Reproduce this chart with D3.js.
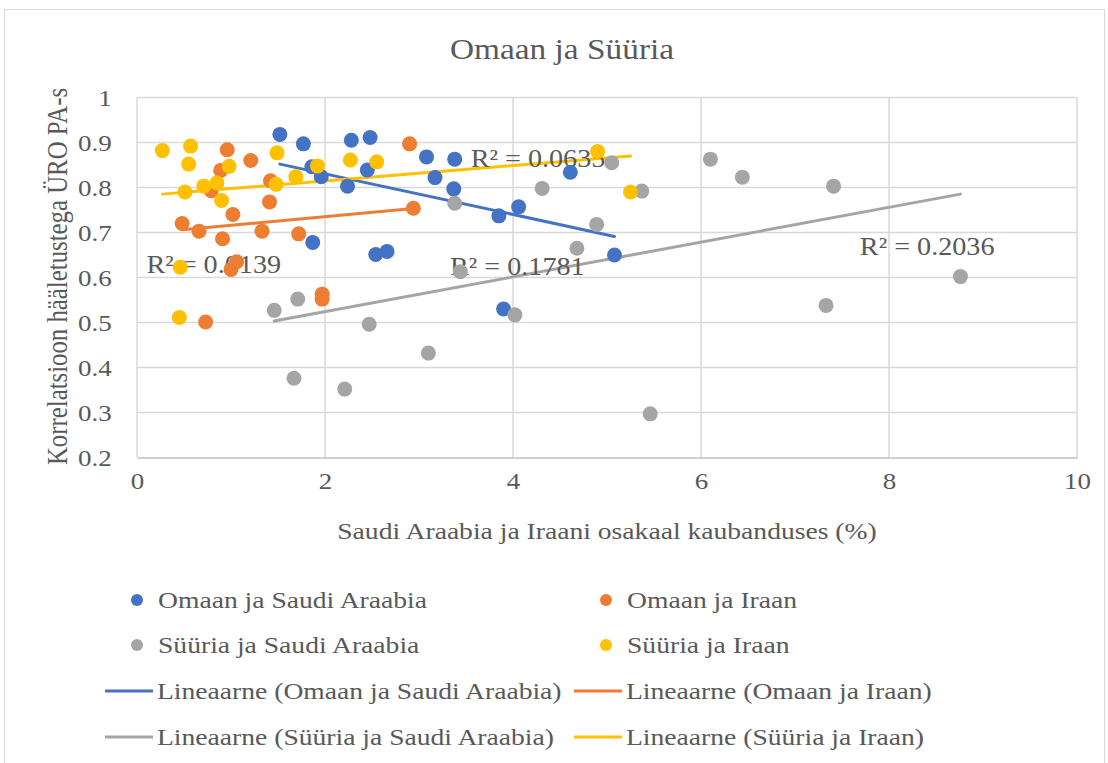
<!DOCTYPE html>
<html>
<head>
<meta charset="utf-8">
<script src="https://cdn.jsdelivr.net/npm/d3@7"></script>
<style>
  body { margin: 0; background: #fff; }
  svg text { font-family: "Liberation Serif", "Times New Roman", serif; fill: #595959; }
</style>
</head>
<body>
<div id="chart"></div>
<script>
const chartTitle = 'Omaan ja Süüria';
const xTitle = 'Saudi Araabia ja Iraani osakaal kaubanduses (%)';
const yTitle = 'Korrelatsioon hääletustega ÜRO PA-s';

const seriesNames = ['Omaan ja Saudi Araabia', 'Omaan ja Iraan', 'Süüria ja Saudi Araabia', 'Süüria ja Iraan'];
const seriesColors = ['#4472c4', '#ed7d31', '#a5a5a5', '#ffc000'];

const omaanSaudiX = [1.52, 1.77, 1.86, 1.96, 1.87, 2.28, 2.48, 2.45, 2.24, 2.54, 2.66, 3.08, 3.38, 3.17, 3.37, 3.85, 4.06, 3.90, 4.61, 5.08];
const omaanSaudiY = [0.918, 0.897, 0.846, 0.824, 0.678, 0.905, 0.911, 0.839, 0.803, 0.651, 0.658, 0.868, 0.863, 0.822, 0.797, 0.737, 0.757, 0.530, 0.834, 0.650];

const omaanIraanX = [0.48, 0.66, 0.73, 0.79, 0.89, 0.91, 0.96, 1.02, 1.00, 1.06, 1.21, 1.33, 1.41, 1.42, 1.72, 1.97, 1.97, 2.90, 2.94];
const omaanIraanY = [0.720, 0.703, 0.501, 0.793, 0.838, 0.686, 0.884, 0.740, 0.618, 0.635, 0.860, 0.703, 0.768, 0.815, 0.697, 0.563, 0.552, 0.897, 0.754];

const syyriaSaudiX = [1.46, 1.67, 1.71, 2.21, 2.47, 3.10, 3.38, 3.44, 4.02, 4.31, 4.68, 4.89, 5.05, 5.37, 5.46, 6.10, 6.44, 7.33, 7.41, 8.76];
const syyriaSaudiY = [0.527, 0.376, 0.552, 0.352, 0.496, 0.432, 0.765, 0.613, 0.517, 0.798, 0.665, 0.718, 0.855, 0.792, 0.297, 0.863, 0.823, 0.538, 0.803, 0.602];

const syyriaIraanX = [0.27, 0.57, 0.55, 0.46, 0.45, 0.51, 0.71, 0.85, 0.90, 0.98, 1.48, 1.49, 1.69, 1.92, 2.27, 2.55, 4.90, 5.25];
const syyriaIraanY = [0.882, 0.892, 0.852, 0.623, 0.511, 0.790, 0.803, 0.810, 0.771, 0.847, 0.807, 0.877, 0.824, 0.848, 0.861, 0.857, 0.880, 0.790];

const rSquaredLabels = ['R² = 0.1781', 'R² = 0.0139', 'R² = 0.2036', 'R² = 0.0635'];
const rSquaredAnchor = [[3.33, 0.606], [0.1, 0.609], [7.69, 0.65], [3.55, 0.846]];

const xTicks = [0, 2, 4, 6, 8, 10];
const yTicks = [0.2, 0.3, 0.4, 0.5, 0.6, 0.7, 0.8, 0.9, 1];

const series = [
  { xs: omaanSaudiX, ys: omaanSaudiY },
  { xs: omaanIraanX, ys: omaanIraanY },
  { xs: syyriaSaudiX, ys: syyriaSaudiY },
  { xs: syyriaIraanX, ys: syyriaIraanY }
].map((s, i) => ({
  name: seriesNames[i],
  color: seriesColors[i],
  points: s.xs.map((x, j) => ({ x: x, y: s.ys[j] }))
}));

// least squares line over the x range of the series, like Excel's linear trendline
function trendline(points) {
  let mx = d3.mean(points, d => d.x);
  let my = d3.mean(points, d => d.y);
  let sxy = d3.sum(points, d => (d.x - mx) * (d.y - my));
  let sxx = d3.sum(points, d => (d.x - mx) * (d.x - mx));
  let b = sxy / sxx;
  let a = my - b * mx;
  let [x0, x1] = d3.extent(points, d => d.x);
  return [{ x: x0, y: a + b * x0 }, { x: x1, y: a + b * x1 }];
}

// the original text is drawn a bit wider than plain Times, so stretch it sideways
const stretch = 1.15;

function addText(parent, tx, ty, size, str, anchor) {
  return parent.append('text')
               .attr('transform', `translate(${tx}, ${ty}) scale(${stretch}, 1)`)
               .attr('text-anchor', anchor || 'start')
               .style('font-size', size + 'px')
               .text(str);
}

const width = 1108, height = 763;
const plot = { left: 137, right: 1077, top: 97.5, bottom: 457.5 };

const svg = d3.select('#chart')
              .append('svg')
              .attr('width', width)
              .attr('height', height);

svg.append('rect')
   .attr('x', 4.5)
   .attr('y', 9.5)
   .attr('width', 1100)
   .attr('height', 760)
   .attr('fill', '#fff')
   .attr('stroke', '#d9d9d9');

let x = d3.scaleLinear().domain([0, 10]).range([plot.left, plot.right]);
let y = d3.scaleLinear().domain([0.2, 1]).range([plot.bottom, plot.top]);

// gridlines
svg.append('g')
   .selectAll('line')
   .data(yTicks.slice(1))
   .enter()
   .append('line')
   .attr('x1', plot.left)
   .attr('x2', plot.right)
   .attr('y1', d => y(d))
   .attr('y2', d => y(d))
   .attr('stroke', '#d9d9d9')
   .attr('stroke-width', 1.5);

svg.append('g')
   .selectAll('line')
   .data(xTicks)
   .enter()
   .append('line')
   .attr('x1', d => x(d))
   .attr('x2', d => x(d))
   .attr('y1', plot.top)
   .attr('y2', plot.bottom)
   .attr('stroke', '#d9d9d9')
   .attr('stroke-width', 1.5);

// x axis
let xAxis = svg.append('g')
   .attr('transform', `translate(0, ${plot.bottom})`)
   .call(d3.axisBottom(x).tickValues(xTicks).tickSize(0).tickPadding(15).tickFormat(d3.format('d')));
xAxis.select('.domain').attr('stroke', '#bfbfbf').attr('stroke-width', 1.5);
xAxis.selectAll('text')
     .style('font-size', '23.5px')
     .attr('fill', '#595959')
     .attr('transform', `scale(${stretch}, 1)`);

// y axis
let yAxis = svg.append('g')
   .attr('transform', `translate(${plot.left}, 0)`)
   .call(d3.axisLeft(y).tickValues(yTicks).tickSize(0).tickPadding(22).tickFormat(d => d === 1 ? '1' : d3.format('.1f')(d)));
yAxis.select('.domain').remove();
yAxis.selectAll('text')
     .style('font-size', '23.5px')
     .attr('fill', '#595959')
     .attr('transform', `scale(${stretch}, 1)`);

// trendlines
svg.append('g')
   .selectAll('line')
   .data(series)
   .enter()
   .append('line')
   .each(function(d) {
     let t = trendline(d.points);
     d3.select(this)
       .attr('x1', x(t[0].x))
       .attr('y1', y(t[0].y))
       .attr('x2', x(t[1].x))
       .attr('y2', y(t[1].y));
   })
   .attr('stroke', d => d.color)
   .attr('stroke-width', 3)
   .attr('stroke-linecap', 'round');

// R² labels
let labels = svg.append('g');
rSquaredLabels.forEach((label, i) => {
  addText(labels, x(rSquaredAnchor[i][0]), y(rSquaredAnchor[i][1]), 24.5, label);
});

// points
svg.append('g')
   .selectAll('g')
   .data(series)
   .enter()
   .append('g')
   .attr('fill', d => d.color)
   .selectAll('circle')
   .data(d => d.points)
   .enter()
   .append('circle')
   .attr('cx', d => x(d.x))
   .attr('cy', d => y(d.y))
   .attr('r', 7.5);

// titles
addText(svg, 562, 59, 29, chartTitle, 'middle');
addText(svg, 607, 539, 24, xTitle, 'middle');

svg.append('text')
   .attr('transform', `translate(67, ${(plot.top + plot.bottom) / 2 - 1}) rotate(-90) scale(1, ${stretch})`)
   .attr('text-anchor', 'middle')
   .style('font-size', '24.8px')
   .text(yTitle);

// legend
let legendCols = [137, 606];
let legendRows = [600, 645, 691, 737];
let legend = svg.append('g');

series.forEach((s, i) => {
  let lx = legendCols[i % 2];
  let ly = legendRows[Math.floor(i / 2)];
  legend.append('circle')
        .attr('cx', lx)
        .attr('cy', ly)
        .attr('r', 6)
        .attr('fill', s.color);
  addText(legend, lx + 21, ly + 8, 24, s.name);
});

series.forEach((s, i) => {
  let lx = legendCols[i % 2];
  let ly = legendRows[2 + Math.floor(i / 2)];
  legend.append('line')
        .attr('x1', lx - 32)
        .attr('x2', lx + 16)
        .attr('y1', ly)
        .attr('y2', ly)
        .attr('stroke', s.color)
        .attr('stroke-width', 3);
  addText(legend, lx + 20, ly + 8, 24, 'Lineaarne (' + s.name + ')');
});
</script>
</body>
</html>
